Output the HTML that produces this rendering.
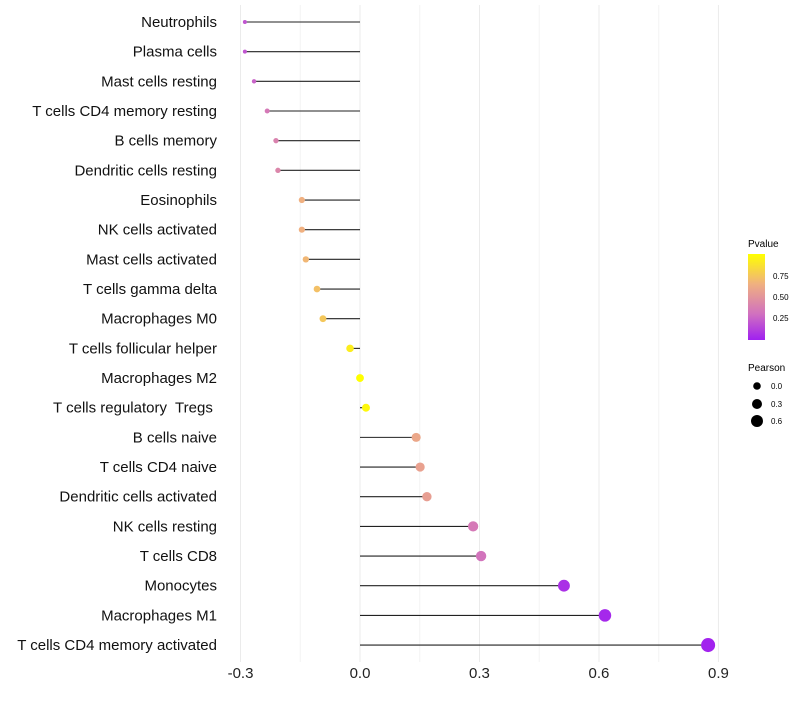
<!DOCTYPE html>
<html><head><meta charset="utf-8"><style>
body{margin:0;background:#fff;font-family:"Liberation Sans",sans-serif;}
</style></head><body>
<svg id="chart" width="800" height="700" xmlns="http://www.w3.org/2000/svg" font-family="Liberation Sans, sans-serif">
<g id="grid"></g>
<g id="marks"></g>
<g id="labels"></g>
<g id="xt"></g>
<g>
<defs><linearGradient id="pg" x1="0" y1="1" x2="0" y2="0">
<stop offset="0" stop-color="#a020f0"/><stop offset="0.3" stop-color="#d070c0"/><stop offset="0.65" stop-color="#f0b080"/><stop offset="1" stop-color="#ffff00"/></linearGradient></defs>
<text x="748" y="247" font-size="10">Pvalue</text>
<rect x="748" y="254" width="17" height="86" fill="url(#pg)"/>
<text x="773" y="279" font-size="8">0.75</text>
<text x="773" y="300" font-size="8">0.50</text>
<text x="773" y="321" font-size="8">0.25</text>
</g>
<g>
<text x="748" y="371" font-size="10">Pearson</text>
<circle cx="757" cy="386" r="3.8" fill="#000"/>
<circle cx="757" cy="404" r="5" fill="#000"/>
<circle cx="757" cy="421" r="6" fill="#000"/>
<text x="771" y="389" font-size="8">0.0</text>
<text x="771" y="407" font-size="8">0.3</text>
<text x="771" y="424" font-size="8">0.6</text>
</g>
</svg>
<script>
const categories=["Neutrophils","Plasma cells","Mast cells resting","T cells CD4 memory resting","B cells memory","Dendritic cells resting","Eosinophils","NK cells activated","Mast cells activated","T cells gamma delta","Macrophages M0","T cells follicular helper","Macrophages M2","T cells regulatory\u00a0 Tregs\u00a0","B cells naive","T cells CD4 naive","Dendritic cells activated","NK cells resting","T cells CD8","Monocytes","Macrophages M1","T cells CD4 memory activated"];
const pearson=[-0.289,-0.289,-0.266,-0.233,-0.211,-0.206,-0.146,-0.146,-0.136,-0.108,-0.093,-0.025,0.0,0.015,0.141,0.151,0.168,0.284,0.304,0.512,0.615,0.874];
const pvalue=[0.2,0.2,0.25,0.35,0.4,0.42,0.65,0.65,0.68,0.72,0.75,0.92,1.0,0.97,0.6,0.57,0.55,0.35,0.32,0.06,0.03,0.01];
const xTicks=[-0.3,0,0.3,0.6,0.9];
const xTickLabels=["-0.3","0.0","0.3","0.6","0.9"];
const NS="http://www.w3.org/2000/svg";
const x=v=>360+v*398.3;
const y=i=>22+i*29.67;
const rad=v=>Math.sqrt(Math.max(1,15.25+38.8*v));
function lerp(a,b,t){return a.map((c,k)=>Math.round(c+(b[k]-c)*t));}
const stops=[[0,[160,32,240]],[0.3,[208,112,192]],[0.65,[240,176,128]],[1,[255,255,0]]];
function col(p){for(let k=1;k<stops.length;k++){if(p<=stops[k][0]){const t=(p-stops[k-1][0])/(stops[k][0]-stops[k-1][0]);return "rgb("+lerp(stops[k-1][1],stops[k][1],t).join(",")+")";}}return "rgb(255,255,0)";}
function mk(tag,at,parent){const e=document.createElementNS(NS,tag);for(const k in at)e.setAttribute(k,at[k]);document.getElementById(parent).appendChild(e);return e;}
for(let v=-0.3;v<=0.901;v+=0.15){
const g=mk("line",{x1:x(v),x2:x(v),y1:5,y2:662,stroke:Math.abs(Math.round(v/0.15))%2?"#f4f4f4":"#ebebeb","stroke-width":1},"grid");


}
xTicks.forEach((t,i)=>{
const e=mk("text",{x:x(t),y:678,"font-size":15,"text-anchor":"middle",fill:"#222"},"xt");
e.textContent=xTickLabels[i];


});
categories.forEach((c,i)=>{
const l=mk("text",{x:217,y:y(i)+5,"font-size":15,"text-anchor":"end",fill:"#111"},"labels");
l.textContent=c;


const s=mk("line",{x1:x(0),x2:x(pearson[i]),y1:y(i),y2:y(i),stroke:"#222","stroke-width":1.1},"marks");


const d=mk("circle",{cx:x(pearson[i]),cy:y(i),r:rad(pearson[i]),fill:col(pvalue[i])},"marks");


});
</script>
</body></html>
